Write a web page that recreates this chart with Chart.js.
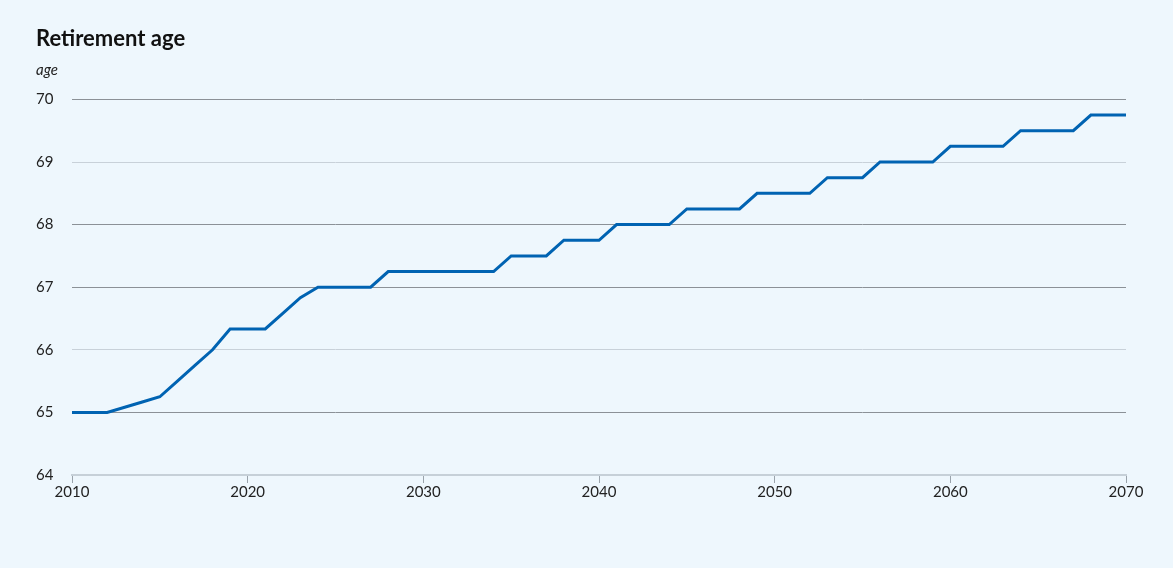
<!DOCTYPE html>
<html>
<head>
<meta charset="utf-8">
<script src="https://cdn.jsdelivr.net/npm/chart.js@4.4.1/dist/chart.umd.min.js"></script>
<style>
  html, body { margin: 0; padding: 0; background: #eef7fd; }
  #wrap { width: 1173px; height: 568px; }
</style>
</head>
<body>
<div id="wrap"><canvas id="chart"></canvas></div>
<script>
/* data */
const years = [];
for (let y = 2010; y <= 2070; y++) years.push(y);

const ages = [
  65, 65, 65, 65.083, 65.167, 65.25, 65.5, 65.75, 66, 66.333,   // 2010-2019
  66.333, 66.333, 66.583, 66.833, 67, 67, 67, 67, 67.25, 67.25, // 2020-2029
  67.25, 67.25, 67.25, 67.25, 67.25, 67.5, 67.5, 67.5, 67.75, 67.75, // 2030-2039
  67.75, 68, 68, 68, 68, 68.25, 68.25, 68.25, 68.25, 68.5,      // 2040-2049
  68.5, 68.5, 68.5, 68.75, 68.75, 68.75, 69, 69, 69, 69,        // 2050-2059
  69.25, 69.25, 69.25, 69.25, 69.5, 69.5, 69.5, 69.5, 69.75, 69.75, // 2060-2069
  69.75                                                          // 2070
];

const xTicks = [2010, 2020, 2030, 2040, 2050, 2060, 2070];
const yTicks = [64, 65, 66, 67, 68, 69, 70];
const darkLines = [65, 67, 68, 70];

const points = years.map((yr, i) => ({ x: yr, y: ages[i] }));

/////////////////////* the chart *//////////////////////////
const ctx = document.getElementById('chart').getContext('2d');
const chart = new Chart(ctx, {
  type: 'line',
  data: {
    datasets: [{
      data: points,
      borderColor: '#0063b2',
      borderWidth: 3,
      pointRadius: 0,
      tension: 0,
      fill: false
    }]
  },
  options: {
    responsive: true,
    maintainAspectRatio: false,
    animation: false,
    layout: { padding: { left: 36, right: 47, top: 26, bottom: 67 } },
    plugins: {
      legend: { display: false },
      tooltip: { enabled: false },
      title: {
        display: true,
        text: 'Retirement age',
        align: 'start',
        color: '#111111',
        font: { family: 'Lato', size: 22, weight: 'bold' },
        padding: { top: 0, bottom: 9 }
      },
      subtitle: {
        display: true,
        text: 'age',
        align: 'start',
        color: '#222222',
        font: { family: 'Lato', size: 15, style: 'italic' },
        padding: { top: 0, bottom: 20 }
      }
    },
    scales: {
      x: {
        type: 'linear',
        min: 2010,
        max: 2070,
        afterBuildTicks: (scale) => { scale.ticks = xTicks.map(v => ({ value: v })); },
        grid: {
          drawOnChartArea: false,
          drawTicks: true,
          tickLength: 8,
          color: '#9aa3ab'
        },
        border: { display: true, color: '#c6d0d8', width: 2 },
        ticks: {
          color: '#222222',
          font: { family: 'Lato', size: 15 },
          padding: 0,
          maxRotation: 0,
          callback: (v) => String(v)
        }
      },
      y: {
        min: 64,
        max: 70,
        afterBuildTicks: (scale) => { scale.ticks = yTicks.map(v => ({ value: v })); },
        afterFit: (scale) => { scale.width = 36; },
        grid: {
          drawTicks: false,
          color: (c) => {
            const v = c.tick ? c.tick.value : null;
            if (v === 64) return 'rgba(0,0,0,0)';
            return darkLines.includes(v) ? '#8b9197' : '#c8d1d9';
          },
          lineWidth: 1
        },
        border: { display: false },
        ticks: {
          color: '#222222',
          font: { family: 'Lato', size: 15 },
          crossAlign: 'far',
          padding: 0
        }
      }
    }
  }
});
</script>
</body>
</html>
